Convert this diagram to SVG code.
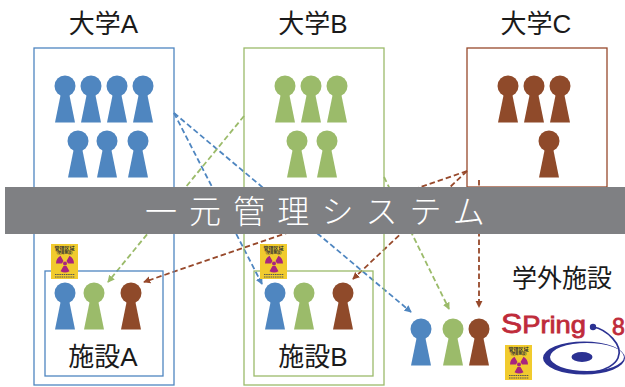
<svg xmlns="http://www.w3.org/2000/svg" width="625" height="387" viewBox="0 0 625 387">
<style>
.box{fill:none;stroke-width:1.3}
.b{stroke:#4f86c0}.g{stroke:#9bbb6a}.r{stroke:#97492b}
.fb{fill:#4f86c0}.fg{fill:#9bbb6a}.fr{fill:#8f4a2a}
.lab{font-family:"Liberation Sans","Noto Sans CJK JP",sans-serif;font-size:26px;fill:#1a1a1a;text-anchor:middle}
.con{fill:none;stroke-width:1.8;stroke-dasharray:5.5 3}
.sign{font-family:"Noto Sans CJK JP",sans-serif;font-weight:700;fill:#333;text-anchor:middle}
.logo{font-family:"Liberation Sans",sans-serif;fill:#bf2b3a;stroke:#bf2b3a;stroke-width:.8}
</style>
<defs>
<symbol id="p" overflow="visible" viewBox="0 0 1 1" width="1" height="1">
<circle cx="0" cy="0" r="10.5"/>
<polygon points="-4,7 4,7 10,36.5 -10,36.5"/>
</symbol>
<marker id="mb" markerWidth="6" markerHeight="6" refX="3.5" refY="2" orient="auto" markerUnits="strokeWidth"><path d="M0,0L4,2L0,4z" fill="#4f86c0"/></marker>
<marker id="mg" markerWidth="6" markerHeight="6" refX="3.5" refY="2" orient="auto" markerUnits="strokeWidth"><path d="M0,0L4,2L0,4z" fill="#9bbb6a"/></marker>
<marker id="mr" markerWidth="6" markerHeight="6" refX="3.5" refY="2" orient="auto" markerUnits="strokeWidth"><path d="M0,0L4,2L0,4z" fill="#97492b"/></marker>
<g id="sign">
<rect width="27" height="35" fill="#f1cb2e"/>
<text class="sign" x="13.5" y="5.5" font-size="5">管理区域</text>
<text class="sign" x="13.5" y="9.5" font-size="3.4">(使用施設)</text>
<circle cx="14" cy="19.5" r="2" fill="#a8247f"/>
<path d="M12.5,16.9L9.5,11.7A9,9 0 0 0 5,19.5H11z M15.5,16.9L18.5,11.7A9,9 0 0 1 23,19.5H17z M12.5,22.1L9.5,27.3A9,9 0 0 0 18.5,27.3L15.5,22.1z" fill="#a8247f"/>
<path d="M4,30.5H24M4,33H24" stroke="#555" stroke-width="1.2" stroke-dasharray="1.5 .7"/>
</g>
</defs>

<g id="connectors">
<line class="con b" x1="174" y1="113" x2="262" y2="284" marker-end="url(#mb)"/>
<line class="con b" x1="174" y1="113" x2="411" y2="312" marker-end="url(#mb)"/>
<line class="con g" x1="244" y1="116" x2="108" y2="282" marker-end="url(#mg)"/>
<line class="con g" x1="384" y1="177" x2="449" y2="309" marker-end="url(#mg)"/>
<line class="con r" x1="467" y1="171" x2="144" y2="282" marker-end="url(#mr)"/>
<line class="con r" x1="467" y1="171" x2="353" y2="279" marker-end="url(#mr)"/>
<line class="con r" x1="479" y1="180" x2="479" y2="307" marker-end="url(#mr)"/>
</g>

<g id="univ-a">
<rect class="box b" x="34" y="48" width="140" height="337"/>
<text class="lab" x="103.5" y="32.5">大学A</text>
<g class="fb">
<use href="#p" x="65" y="86"/><use href="#p" x="91" y="86"/><use href="#p" x="117" y="86"/><use href="#p" x="143" y="86"/>
<use href="#p" x="78" y="141"/><use href="#p" x="107" y="141"/><use href="#p" x="138" y="141"/>
</g>
</g>
<g id="univ-b">
<rect class="box g" x="244" y="48" width="140" height="337"/>
<text class="lab" x="313" y="32.5">大学B</text>
<g class="fg">
<use href="#p" x="285" y="86"/><use href="#p" x="311" y="86"/><use href="#p" x="337" y="86"/>
<use href="#p" x="297" y="141"/><use href="#p" x="327" y="141"/>
</g>
</g>
<g id="univ-c">
<rect class="box r" x="467" y="48" width="140" height="139"/>
<text class="lab" x="536" y="32.5">大学C</text>
<g class="fr">
<use href="#p" x="508" y="86"/><use href="#p" x="534" y="86"/><use href="#p" x="560" y="86"/>
<use href="#p" x="549" y="141"/>
</g>
</g>
<g id="facility-a">
<rect class="box b" x="45" y="271" width="118" height="105"/>
<use href="#sign" x="51" y="244"/>
<use href="#p" x="65" y="293" class="fb"/><use href="#p" x="94" y="293" class="fg"/><use href="#p" x="131" y="293" class="fr"/>
<text class="lab" x="103" y="366">施設A</text>
</g>
<g id="facility-b">
<rect class="box g" x="254" y="271" width="119" height="105"/>
<use href="#sign" x="260" y="244"/>
<use href="#p" x="275" y="293" class="fb"/><use href="#p" x="304" y="293" class="fg"/><use href="#p" x="343" y="293" class="fr"/>
<text class="lab" x="313" y="366">施設B</text>
</g>
<g id="external">
<text class="lab" x="562" y="287" style="font-size:25px">学外施設</text>
<use href="#p" x="421" y="329" class="fb"/><use href="#p" x="453" y="329" class="fg"/><use href="#p" x="479" y="329" class="fr"/>
<use href="#sign" x="505" y="345"/>
<text class="logo" x="501" y="333" textLength="85" lengthAdjust="spacingAndGlyphs"><tspan font-size="28">S</tspan><tspan font-size="24">Pring</tspan></text>
<text class="logo" x="612" y="334.5" font-size="23">8</text>
<path fill="#2b3192" fill-rule="evenodd" d="M543,358a41,16.5 0 1 0 82,0a41,16.5 0 1 0 -82,0z M550,357a37,14 0 1 0 74,0a37,14 0 1 0 -74,0z"/>
<path fill="none" stroke="#2b3192" stroke-width="1.7" d="M593,327C606,329 624,345 618,358C615,365 605,370 595,372"/>
<circle cx="593" cy="327" r="3.2" fill="#2b3192"/>
<ellipse cx="582" cy="357" rx="10.5" ry="5" fill="#2b3192"/>
</g>
<g id="system">
<rect x="5" y="187" width="620" height="47" fill="#7f8083"/>
<text x="145" y="223" font-family="'Noto Sans CJK JP',sans-serif" font-size="32" font-weight="300" fill="#fff" letter-spacing="12.1">一元管理システム</text>
</g>
</svg>
